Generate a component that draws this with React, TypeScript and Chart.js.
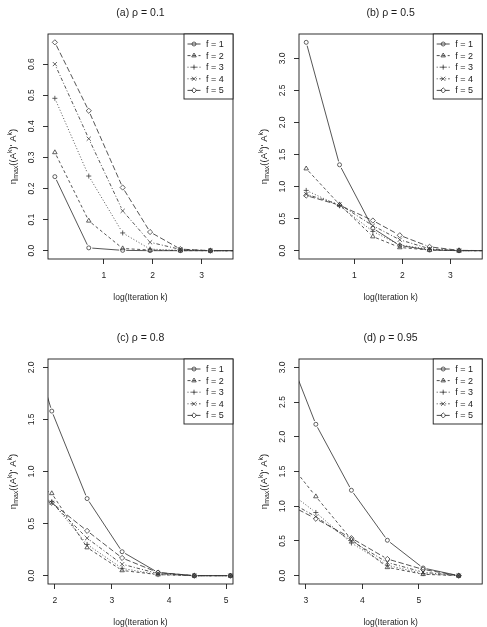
import React, { useEffect, useRef } from 'react';
import { Chart, registerables } from 'chart.js';

Chart.register(...registerables);

const FONT = '"Liberation Sans", Arial, Helvetica, sans-serif';
const INK = '#1c1c1c';
const LINE_INK = '#383838';

// Legend entries
const seriesNames = ['f = 1', 'f = 2', 'f = 3', 'f = 4', 'f = 5'];

// log(iteration k) positions for each panel
const logIterA = [0, 0.693, 1.386, 1.946, 2.565, 3.178, 3.807];
const logIterB = [0, 0.693, 1.386, 1.946, 2.565, 3.178, 3.807];
const logIterC = [1.386, 1.946, 2.565, 3.178, 3.807, 4.443, 5.075, 5.704];
const logIterD = [2.565, 3.178, 3.807, 4.443, 5.075, 5.704];

// eta_max values, one row per f = 1..5
const etaRho01 = [
  [0.238, 0.009, 0.001, 0, 0, 0, 0],
  [0.316, 0.096, 0.007, 0.002, 0, 0, 0],
  [0.49, 0.24, 0.057, 0.005, 0.001, 0, 0],
  [0.6, 0.36, 0.128, 0.027, 0.004, 0, 0],
  [0.67, 0.45, 0.203, 0.06, 0.005, 0, 0],
];
const etaRho05 = [
  [3.25, 1.34, 0.35, 0.08, 0.01, 0, 0],
  [1.28, 0.72, 0.22, 0.05, 0.01, 0, 0],
  [0.94, 0.7, 0.3, 0.09, 0.02, 0, 0],
  [0.88, 0.72, 0.39, 0.17, 0.03, 0, 0],
  [0.86, 0.71, 0.47, 0.24, 0.06, 0.005, 0],
];
const etaRho08 = [
  [2.6, 1.58, 0.74, 0.23, 0.03, 0, 0, 0],
  [0.95, 0.79, 0.27, 0.05, 0.01, 0, 0, 0],
  [0.85, 0.71, 0.3, 0.07, 0.01, 0, 0, 0],
  [0.82, 0.7, 0.36, 0.11, 0.02, 0, 0, 0],
  [0.8, 0.7, 0.43, 0.17, 0.03, 0, 0, 0],
];
const etaRho095 = [
  [3.45, 2.18, 1.23, 0.51, 0.11, 0],
  [1.77, 1.14, 0.52, 0.12, 0.02, 0],
  [1.29, 0.91, 0.47, 0.15, 0.03, 0],
  [1.13, 0.85, 0.5, 0.19, 0.05, 0],
  [1.08, 0.82, 0.54, 0.24, 0.09, 0],
];

// Tick values
const xTicksAB = [1, 2, 3];
const xTicksC = [2, 3, 4, 5];
const xTicksD = [3, 4, 5];
const yTicksA = [0, 0.1, 0.2, 0.3, 0.4, 0.5, 0.6];
const yTicksB = [0, 0.5, 1, 1.5, 2, 2.5, 3];
const yTicksC = [0, 0.5, 1, 1.5, 2];
const yTicksD = [0, 0.5, 1, 1.5, 2, 2.5, 3];

// Line type and plotting symbol for each f
const seriesStyle = [
  { dash: [] as number[], point: 'circle', r: 2.0 },
  { dash: [3, 2.5], point: 'triangle', r: 2.6 },
  { dash: [1, 2], point: 'cross', r: 2.5 },
  { dash: [1, 2, 3.5, 2], point: 'crossRot', r: 2.9 },
  { dash: [5.5, 2.5], point: 'rectRot', r: 2.6 },
];

const GAP = 3.5;
const AXIS_PX = 8.5;

type PanelCfg = {
  title: string;
  xs: number[];
  rows: number[][];
  xTicks: number[];
  yTicks: number[];
  xMin: number; xMax: number; yMin: number; yMax: number;
  left: number; top: number; w: number; h: number;
  box: { l: number; t: number; r: number; b: number };
};

const panels: PanelCfg[] = [
  {
    title: '(a) ρ = 0.1', xs: logIterA, rows: etaRho01, xTicks: xTicksAB, yTicks: yTicksA,
    xMin: -0.14, xMax: 3.64, yMin: -0.0268, yMax: 0.6968,
    left: 0, top: 0, w: 243, h: 313, box: { l: 48, t: 34, r: 233, b: 259 },
  },
  {
    title: '(b) ρ = 0.5', xs: logIterB, rows: etaRho05, xTicks: xTicksAB, yTicks: yTicksB,
    xMin: -0.15, xMax: 3.66, yMin: -0.13, yMax: 3.38,
    left: 243, top: 0, w: 244, h: 313, box: { l: 56, t: 34, r: 241, b: 259 },
  },
  {
    title: '(c) ρ = 0.8', xs: logIterC, rows: etaRho08, xTicks: xTicksC, yTicks: yTicksC,
    xMin: 1.88, xMax: 5.12, yMin: -0.08, yMax: 2.08,
    left: 0, top: 313, w: 243, h: 314, box: { l: 48, t: 46, r: 233, b: 271 },
  },
  {
    title: '(d) ρ = 0.95', xs: logIterD, rows: etaRho095, xTicks: xTicksD, yTicks: yTicksD,
    xMin: 2.88, xMax: 6.12, yMin: -0.12, yMax: 3.12,
    left: 243, top: 313, w: 244, h: 314, box: { l: 56, t: 46, r: 241, b: 271 },
  },
];

function drawMarker(ctx: CanvasRenderingContext2D, style: string, x: number, y: number, r: number) {
  ctx.beginPath();
  if (style === 'circle') {
    ctx.arc(x, y, r, 0, Math.PI * 2);
  } else if (style === 'triangle') {
    for (let k = 0; k < 3; k++) {
      const a = (k * 2 * Math.PI) / 3;
      const px = x + Math.sin(a) * r;
      const py = y - Math.cos(a) * r;
      if (k === 0) ctx.moveTo(px, py); else ctx.lineTo(px, py);
    }
    ctx.closePath();
  } else if (style === 'cross') {
    ctx.moveTo(x, y - r); ctx.lineTo(x, y + r);
    ctx.moveTo(x - r, y); ctx.lineTo(x + r, y);
  } else if (style === 'crossRot') {
    const d = r * Math.SQRT1_2;
    ctx.moveTo(x - d, y - d); ctx.lineTo(x + d, y + d);
    ctx.moveTo(x - d, y + d); ctx.lineTo(x + d, y - d);
  } else if (style === 'rectRot') {
    ctx.moveTo(x, y - r); ctx.lineTo(x + r, y); ctx.lineTo(x, y + r); ctx.lineTo(x - r, y);
    ctx.closePath();
  }
  ctx.stroke();
}

// Segments between consecutive points, stopping short of each symbol
const gapLines = {
  id: 'gapLines',
  beforeDatasetsDraw(chart: any) {
    const { ctx, chartArea } = chart;
    ctx.save();
    ctx.beginPath();
    ctx.rect(chartArea.left, chartArea.top, chartArea.right - chartArea.left, chartArea.bottom - chartArea.top);
    ctx.clip();
    chart.data.datasets.forEach((ds: any, i: number) => {
      const pts = chart.getDatasetMeta(i).data;
      ctx.strokeStyle = ds.borderColor;
      ctx.lineWidth = ds.borderWidth;
      ctx.setLineDash(ds.lineDash);
      for (let j = 0; j < pts.length - 1; j++) {
        const p = pts[j];
        const q = pts[j + 1];
        const dx = q.x - p.x;
        const dy = q.y - p.y;
        const len = Math.hypot(dx, dy);
        if (len <= 2 * GAP) continue;
        const ux = dx / len;
        const uy = dy / len;
        ctx.beginPath();
        ctx.moveTo(p.x + ux * GAP, p.y + uy * GAP);
        ctx.lineTo(q.x - ux * GAP, q.y - uy * GAP);
        ctx.stroke();
      }
    });
    ctx.restore();
  },
};

function drawEtaLabel(ctx: CanvasRenderingContext2D, cx: number, cy: number) {
  const big = 9.5;
  const small = 7;
  const runs = [
    { t: 'η', s: big, d: 0 },
    { t: 'max', s: small, d: 2.4 },
    { t: '((A', s: big, d: 0 },
    { t: 'k', s: small, d: -3.6 },
    { t: ")' A", s: big, d: 0 },
    { t: 'k', s: small, d: -3.6 },
    { t: ')', s: big, d: 0 },
  ];
  ctx.save();
  ctx.translate(cx, cy);
  ctx.rotate(-Math.PI / 2);
  ctx.textBaseline = 'alphabetic';
  ctx.textAlign = 'left';
  ctx.fillStyle = INK;
  const widths = runs.map((run) => {
    ctx.font = `${run.s}px ${FONT}`;
    return ctx.measureText(run.t).width;
  });
  let x = -widths.reduce((a, b) => a + b, 0) / 2;
  runs.forEach((run, i) => {
    ctx.font = `${run.s}px ${FONT}`;
    ctx.fillText(run.t, x, 3.3 + run.d);
    x += widths[i];
  });
  ctx.restore();
}

function makeFrame(title: string) {
  return {
    id: 'frame',
    afterDraw(chart: any) {
      const { ctx, chartArea: a } = chart;
      ctx.save();
      ctx.strokeStyle = INK;
      ctx.lineWidth = 0.9;
      ctx.setLineDash([]);
      ctx.strokeRect(a.left, a.top, a.right - a.left, a.bottom - a.top);

      const cx = (a.left + a.right) / 2;
      ctx.fillStyle = INK;
      ctx.textAlign = 'center';
      ctx.textBaseline = 'middle';
      ctx.font = `10.5px ${FONT}`;
      ctx.fillText(title, cx, a.top - 21);
      ctx.font = `${AXIS_PX}px ${FONT}`;
      ctx.fillText('log(Iteration k)', cx, a.bottom + 38.5);
      drawEtaLabel(ctx, a.left - 35.5, (a.top + a.bottom) / 2 + 10);

      // legend
      const lw = 49;
      const lh = 65;
      const lx = a.right - lw;
      const ly = a.top;
      ctx.fillStyle = '#fff';
      ctx.fillRect(lx, ly, lw, lh);
      ctx.strokeRect(lx, ly, lw, lh);
      chart.data.datasets.forEach((ds: any, i: number) => {
        const y = ly + 10 + i * 11.6;
        ctx.strokeStyle = LINE_INK;
        ctx.lineWidth = 0.9;
        ctx.setLineDash(ds.lineDash);
        ctx.beginPath();
        ctx.moveTo(lx + 3.5, y);
        ctx.lineTo(lx + 16.5, y);
        ctx.stroke();
        ctx.setLineDash([]);
        ctx.lineWidth = 0.8;
        drawMarker(ctx, ds.pointStyle, lx + 10, y, ds.pointRadius);
        ctx.fillStyle = INK;
        ctx.textAlign = 'left';
        ctx.textBaseline = 'middle';
        ctx.font = `9px ${FONT}`;
        ctx.fillText(ds.label, lx + 22, y + 0.5);
      });
      ctx.restore();
    },
  };
}

function Panel({ cfg }: { cfg: PanelCfg }) {
  const ref = useRef<HTMLCanvasElement>(null);
  useEffect(() => {
    const { box, w, h } = cfg;
    const tickFont = { family: FONT, size: AXIS_PX };
    const chart = new Chart(ref.current as HTMLCanvasElement, {
      type: 'scatter',
      data: {
        datasets: cfg.rows.map((vals, i) => ({
          label: seriesNames[i],
          data: vals.map((v, j) => ({ x: cfg.xs[j], y: v })),
          showLine: false,
          borderColor: LINE_INK,
          borderWidth: 0.85,
          backgroundColor: 'rgba(0,0,0,0)',
          pointStyle: seriesStyle[i].point,
          pointRadius: seriesStyle[i].r,
          pointBorderWidth: 0.8,
          pointBorderColor: LINE_INK,
          pointBackgroundColor: 'rgba(0,0,0,0)',
          lineDash: seriesStyle[i].dash,
          clip: 0,
        })) as any,
      },
      options: {
        responsive: false,
        animation: false,
        devicePixelRatio: 1,
        events: [],
        layout: { padding: { left: 0, top: box.t, right: w - box.r, bottom: 0 } },
        plugins: { legend: { display: false }, tooltip: { enabled: false }, title: { display: false } },
        scales: {
          x: {
            type: 'linear',
            position: 'bottom',
            min: cfg.xMin,
            max: cfg.xMax,
            afterBuildTicks: (s: any) => { s.ticks = cfg.xTicks.map((v) => ({ value: v })); },
            afterFit: (s: any) => { s.height = h - box.b; },
            grid: { display: true, drawOnChartArea: false, drawTicks: true, tickLength: 5, color: INK, lineWidth: 0.9 },
            border: { display: false },
            ticks: {
              font: tickFont, color: INK, padding: 7, autoSkip: false, maxRotation: 0, minRotation: 0,
              callback: (v: any) => String(v),
            },
          },
          y: {
            type: 'linear',
            min: cfg.yMin,
            max: cfg.yMax,
            afterBuildTicks: (s: any) => { s.ticks = cfg.yTicks.map((v) => ({ value: v })); },
            afterFit: (s: any) => { s.width = box.l; },
            grid: { display: true, drawOnChartArea: false, drawTicks: true, tickLength: 5, color: INK, lineWidth: 0.9 },
            border: { display: false },
            ticks: {
              font: tickFont, color: INK, padding: 5.5, autoSkip: false, minRotation: 90, maxRotation: 90,
              crossAlign: 'center',
              callback: (v: any) => Number(v).toFixed(1),
            },
          },
        },
      } as any,
      plugins: [gapLines, makeFrame(cfg.title)],
    });
    return () => chart.destroy();
  }, [cfg]);
  return (
    <canvas
      ref={ref}
      width={cfg.w}
      height={cfg.h}
      style={{ position: 'absolute', left: cfg.left, top: cfg.top, width: cfg.w, height: cfg.h }}
    />
  );
}

export default function App() {
  return (
    <div style={{ position: 'absolute', left: 0, top: 0, width: 487, height: 627, background: '#fff', overflow: 'hidden' }}>
      {panels.map((p) => (
        <Panel key={p.title} cfg={p} />
      ))}
    </div>
  );
}
